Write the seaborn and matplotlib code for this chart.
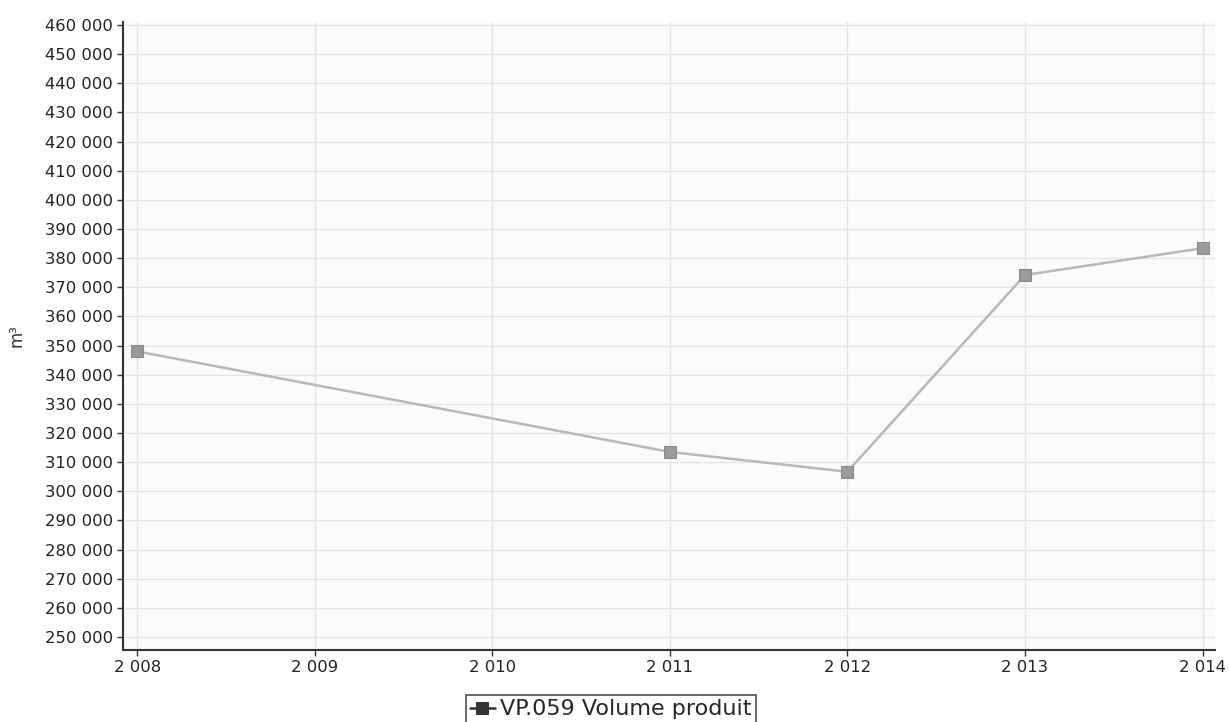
import matplotlib
matplotlib.use("Agg")
import matplotlib.pyplot as plt
import seaborn as sns
import pandas as pd
from matplotlib.ticker import FuncFormatter, MultipleLocator

years = [2008, 2011, 2012, 2013, 2014]
volumes = [348000, 313500, 306700, 374200, 383400]
series_name = "VP.059 Volume produit"
y_label = "m³"

df = pd.DataFrame({"year": years, "volume": volumes, "series": series_name})

sns.set_theme(style="white")
plt.rcParams['font.family'] = ['DejaVu Sans']

fig = plt.figure(figsize=(12.29, 7.22), dpi=100)
ax = fig.add_axes([0.100, 0.0997, 0.8886, 0.8698])

sns.lineplot(data=df, x="year", y="volume", hue="series", palette=["#b8b8b8"],
             marker="s", markersize=9, markerfacecolor="#9a9a9a",
             markeredgecolor="#8a8a8a", linewidth=1.8, ax=ax)

ax.set_xlim(2007.92, 2014.07)
ax.set_ylim(245540, 461000)
ax.yaxis.set_major_locator(MultipleLocator(10000))
ax.xaxis.set_major_locator(MultipleLocator(1))

def fmt(v, pos):
    return f"{int(round(v)):,}".replace(",", " ")

ax.yaxis.set_major_formatter(FuncFormatter(fmt))
ax.xaxis.set_major_formatter(FuncFormatter(fmt))

ax.grid(True, color="#e4e4e4", linewidth=1)
ax.set_facecolor("#fbfbfb")
for s in ["top", "right"]:
    ax.spines[s].set_visible(False)
for s in ["left", "bottom"]:
    ax.spines[s].set_color("#333333")
    ax.spines[s].set_linewidth(1.5)

ax.tick_params(axis="both", which="major", length=4, width=1, color="#333333",
               labelsize=11.8, labelcolor="#222222", direction="out",
               left=True, bottom=True, pad=3)
ax.set_xlabel("")
ax.set_ylabel(y_label, fontsize=12, color="#333333", labelpad=14)

handles, labels = ax.get_legend_handles_labels()
ax.get_legend().remove()
leg = fig.legend(handles, labels, loc="upper center", bbox_to_anchor=(0.497, 0.053),
                 ncol=1, frameon=True, fancybox=False, fontsize=16, handlelength=1.1,
                 handletextpad=0.25, borderpad=0.2)
leg.get_frame().set_edgecolor("#222222")
leg.get_frame().set_linewidth(1.2)
for h in leg.legend_handles:
    h.set_color("#333333")
    h.set_markerfacecolor("#333333")
    h.set_markeredgecolor("#333333")

fig.savefig("out.png", dpi=100)
